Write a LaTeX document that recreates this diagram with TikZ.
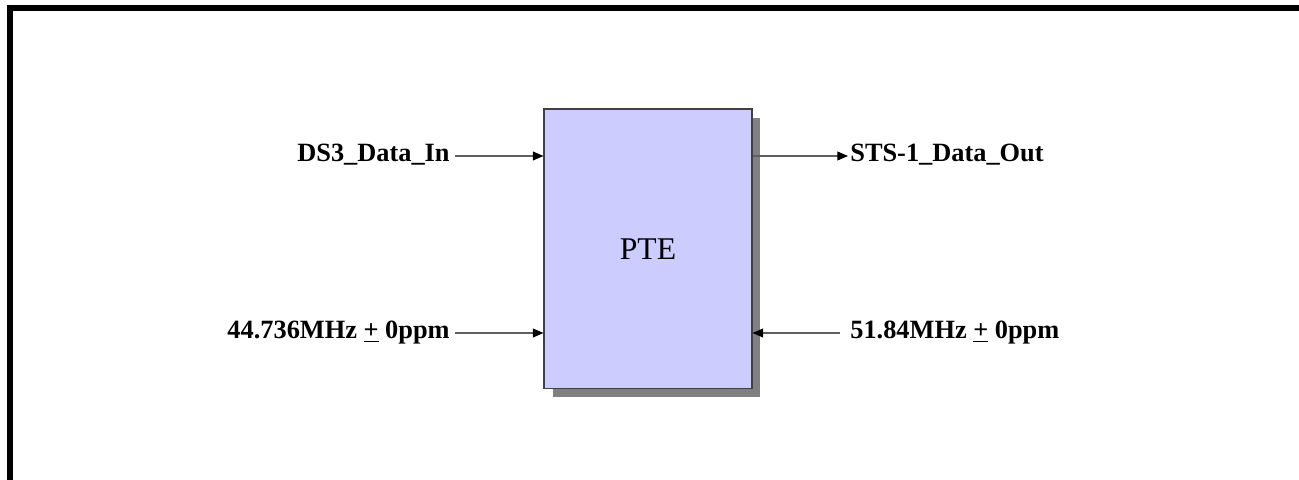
\documentclass[tikz,border=0pt]{standalone}
\usepackage{fontspec}
\setmainfont{Liberation Serif}
\definecolor{boxblue}{RGB}{204, 204, 255}
\definecolor{wiregray}{RGB}{96, 96, 96}
\usetikzlibrary{arrows.meta,positioning,shadows}

\tikzset{
    lbl/.style={font=\fontsize{15}{18}\selectfont\bfseries, inner xsep=0.1cm, inner ysep=0pt, text height=0.66em, text depth=0pt},
    sig/.style={draw=wiregray, line width=0.6pt, -{Triangle[length=6pt, width=5pt, color=black]}}
}

\begin{document}
\begin{tikzpicture}[x=0.02cm, y=0.02cm]
        \useasboundingbox (0, 0) rectangle (1299, 480);

        % Frame
        \draw[line width=3.4pt, black] (10, 0) -- (10, 472) -- (1299, 472);

        % PTE block
        \node[draw=black!75, line width=0.6pt, fill=boxblue, minimum width=4.16cm, minimum height=5.6cm,
              general shadow={fill=black!50, shadow xshift=0.17cm, shadow yshift=-0.17cm},
              font=\fontsize{18}{21}\selectfont] (pte) at (648, 231) {PTE};

        % Signals
        \node[lbl, anchor=east] (dsin) at (455, 324) {DS3\_Data\_In};
        \node[lbl, anchor=east] (clkin) at (455, 147) {44.736MHz \underline{+} 0ppm};
        \node[lbl, anchor=west, inner xsep=0.04cm] (dsout) at (848, 324) {STS-1\_Data\_Out};
        \node[lbl, anchor=west, inner xsep=0.2cm] (clkout) at (840, 147) {51.84MHz \underline{+} 0ppm};

        \draw[sig] (dsin.east) -- (dsin.east -| pte.west);
        \draw[sig] (clkin.east) -- (clkin.east -| pte.west);
        \draw[sig] (dsout.west -| pte.east) -- (dsout.west);
        \draw[sig] (clkout.west) -- (clkout.west -| pte.east);
\end{tikzpicture}
\end{document}
